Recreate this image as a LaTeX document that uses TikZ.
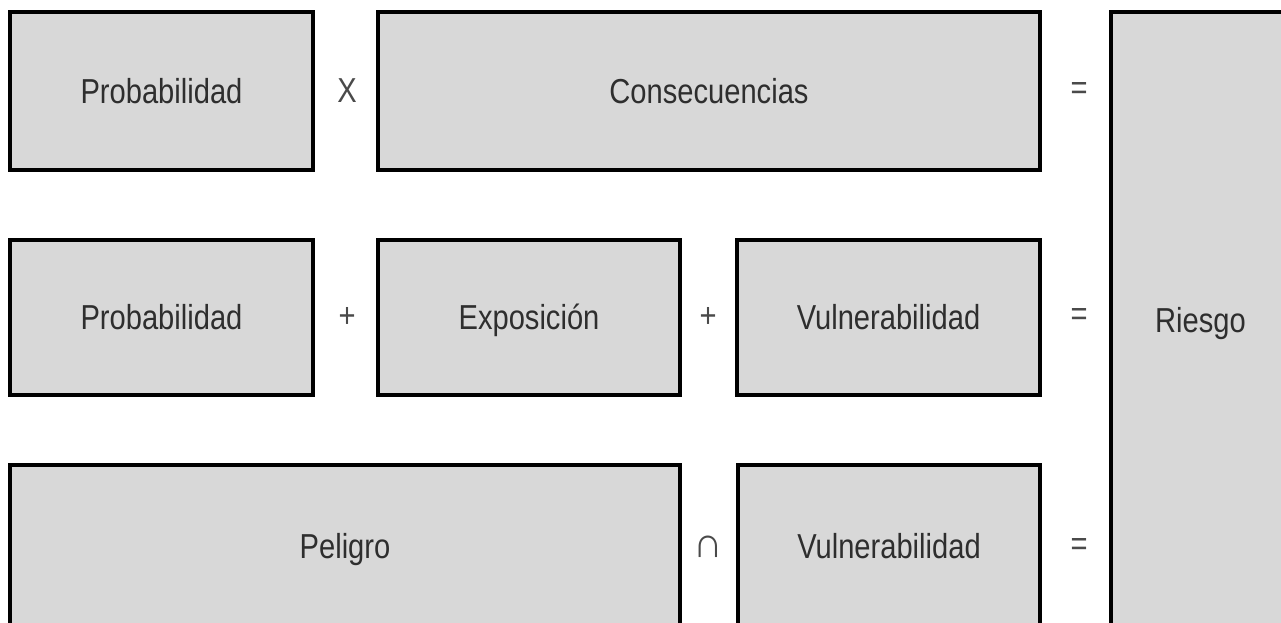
\documentclass[tikz,border=0pt]{standalone}
\usepackage{fontspec}
\usepackage{tikz}
\usetikzlibrary{positioning}
\setmainfont{Liberation Sans}[FakeStretch=0.84]
\definecolor{boxgray}{HTML}{D8D8D8}
\definecolor{txtgray}{HTML}{2E2E2E}
\definecolor{opgray}{HTML}{4A4A4A}
\tikzset{
    termbox/.style={draw=black, fill=boxgray, line width=2.4pt, inner sep=0pt,
        font=\fontsize{26}{30}\selectfont, text=txtgray,
        text height=18.6pt, text depth=0pt},
    oper/.style={font=\fontsize{26}{30}\selectfont, text=opgray, inner sep=0pt},
}

\begin{document}
\begin{tikzpicture}[x=0.75pt, y=-0.75pt]
    \useasboundingbox (0,0) rectangle (1281,622);
    \clip (0,0) rectangle (1281,622);
    % Riesgo column
    \node[termbox, minimum width=134.25pt, minimum height=462pt] (riesgo) at (1200.5, 320) {Riesgo};
    % first row
    \node[termbox, minimum width=227.25pt, minimum height=118.5pt] (prob1) at (161.5, 91) {Probabilidad};
    \node[termbox, minimum width=496.5pt, minimum height=118.5pt] (cons) at (709, 91) {Consecuencias};
    \node[oper] (times) at (347, 91) {X};
    \node[oper] (eq1) at (1079, 91) {=};
    % second row
    \node[termbox, minimum width=227.25pt, minimum height=116.25pt] (prob2) at (161.5, 317.5) {Probabilidad};
    \node[termbox, minimum width=226.5pt, minimum height=116.25pt] (expo) at (529, 317.5) {Exposición};
    \node[termbox, minimum width=227.25pt, minimum height=116.25pt] (vuln2) at (888.5, 317.5) {Vulnerabilidad};
    \node[oper] (plus1) at (347, 317) {+};
    \node[oper] (plus2) at (708, 317) {+};
    \node[oper] (eq2) at (1079, 317) {=};
    % third row
    \node[termbox, minimum width=502.5pt, minimum height=122.25pt] (peligro) at (345, 546.5) {Peligro};
    \node[termbox, minimum width=226.5pt, minimum height=122.25pt] (vuln3) at (889, 546.5) {Vulnerabilidad};
    \node[oper, font=\fontsize{32}{36}\selectfont, transform shape, xscale=1.15] (inter) at (708, 547) {∩};
    \node[oper] (eq3) at (1079, 547) {=};
\end{tikzpicture}
\end{document}
